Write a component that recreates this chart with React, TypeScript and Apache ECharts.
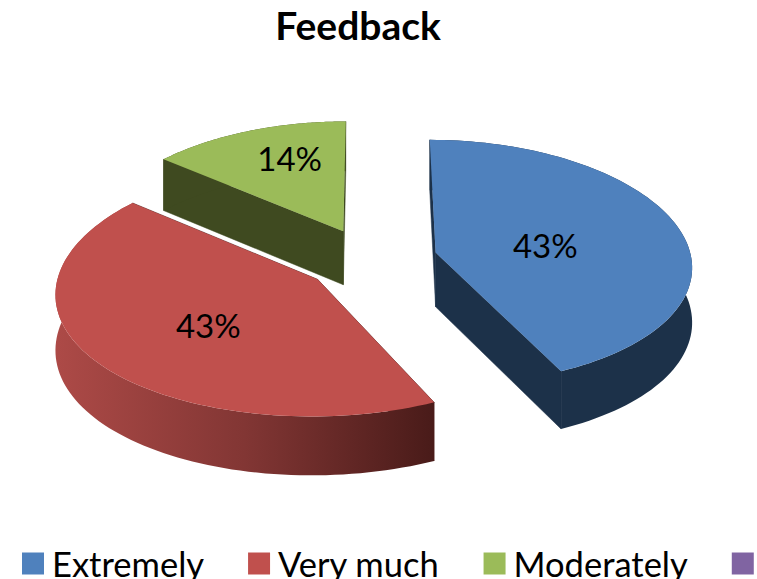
import React, { useEffect, useRef } from "react";
import * as echarts from "echarts";

const TITLE = "Feedback";
const categories = ["Extremely", "Very much", "Moderately", "\u00a0"];
const shares = [43, 43, 14, 0];
const colors = ["#4f81bd", "#c0504d", "#9bbb59", "#8064a2"];
const labelSpots = [
  { r: 0.7, dx: 2, dy: 4 },
  { r: 0.78, dx: 3, dy: 4 },
  { r: 0.95, dx: 14, dy: -3 },
  { r: 0, dx: 0, dy: 0 },
];
const wallFills: any[] = [
  "#1c3149",
  new echarts.graphic.LinearGradient(0, 0, 1, 0, [
    { offset: 0, color: "#ad4a47" },
    { offset: 0.5, color: "#823634" },
    { offset: 1, color: "#491b19" },
  ]),
  "#3f4a20",
  "#3f3251",
];
const cutFills = ["#1c3149", "#491b19", "#3f4a20", "#3f3251"];

const CX = 371;
const CY = 259.5;
const RX = 256;
const RY = 122.8;
const PERSPECTIVE_X = 0.1;
const PERSPECTIVE_Y = 0.08;
const EXPLODE = 0.26;
const DEPTH = 54.5;
const DEPTH_TAPER = 0.07;
const total = shares.reduce((a, b) => a + b, 0);

function project(u: number, v: number, drop = 0) {
  const sx = 1 / (1 + PERSPECTIVE_X * v);
  const sy = 1 / (1 + PERSPECTIVE_Y * v);
  return [CX + RX * u * sx, CY - RY * v * sy + DEPTH * (1 - DEPTH_TAPER * v) * drop];
}

function renderSlice(index: number) {
  return (_params: any, api: any) => {
    const value = api.value(0);
    if (!value) return { type: "group", children: [] };
    let before = 0;
    for (let i = 0; i < index; i++) before += shares[i];
    const a0 = (before / total) * Math.PI * 2;
    const a1 = ((before + value) / total) * Math.PI * 2;
    const mid = (a0 + a1) / 2;
    const ou = Math.sin(mid) * EXPLODE;
    const ov = Math.cos(mid) * EXPLODE;
    const arc = (drop: number) => {
      const pts: number[][] = [];
      const steps = 90;
      for (let i = 0; i <= steps; i++) {
        const a = a0 + ((a1 - a0) * i) / steps;
        pts.push(project(ou + Math.sin(a), ov + Math.cos(a), drop));
      }
      return pts;
    };
    const top = arc(0);
    const bottom = arc(1);
    const apexTop = project(ou, ov, 0);
    const apexBottom = project(ou, ov, 1);
    const cut = (p: number[], q: number[]) => ({
      type: "polygon",
      shape: { points: [apexTop, p, q, apexBottom] },
      style: { fill: cutFills[index], stroke: cutFills[index], lineWidth: 0.5 },
    });
    const spot = labelSpots[index];
    const lp = project(Math.sin(mid) * spot.r, Math.cos(mid) * spot.r, 0);
    return {
      type: "group",
      children: [
        cut(top[0], bottom[0]),
        cut(top[top.length - 1], bottom[bottom.length - 1]),
        {
          type: "polygon",
          shape: { points: [...top, ...bottom.slice().reverse()] },
          style: { fill: wallFills[index] },
        },
        {
          type: "polygon",
          shape: { points: [apexTop, ...top] },
          style: { fill: colors[index] },
        },
        {
          type: "text",
          x: lp[0] + spot.dx,
          y: lp[1] + spot.dy,
          style: {
            text: `${value}%`,
            fill: "#000",
            font: "33px Lato",
            textAlign: "center",
            textVerticalAlign: "middle",
          },
        },
      ],
    };
  };
}

export default function App() {
  const ref = useRef<HTMLDivElement>(null);
  useEffect(() => {
    document.body.style.margin = "0";
    document.body.style.overflow = "hidden";
    const chart = echarts.init(ref.current!, undefined, { renderer: "svg" });
    chart.setOption({
      animation: false,
      backgroundColor: "#fff",
      title: {
        text: TITLE,
        left: 358,
        top: 5,
        padding: 0,
        textAlign: "center",
        textStyle: { fontFamily: "Lato", fontWeight: "bold", fontSize: 39, color: "#000" },
      },
      legend: {
        left: 22,
        top: 546,
        width: 1200,
        padding: 0,
        itemWidth: 22,
        itemHeight: 22,
        itemGap: 44,
        icon: "rect",
        selectedMode: false,
        data: categories,
        textStyle: { fontFamily: "Lato", fontSize: 34.5, color: "#000", padding: [0, 0, 0, 3] },
      },
      series: categories.map((name, i) => ({
        type: "custom",
        name,
        coordinateSystem: "none",
        silent: true,
        itemStyle: { color: colors[i] },
        data: [[shares[i]]],
        renderItem: renderSlice(i),
      })),
    });
    return () => chart.dispose();
  }, []);
  return <div ref={ref} style={{ width: 757, height: 579 }} />;
}
